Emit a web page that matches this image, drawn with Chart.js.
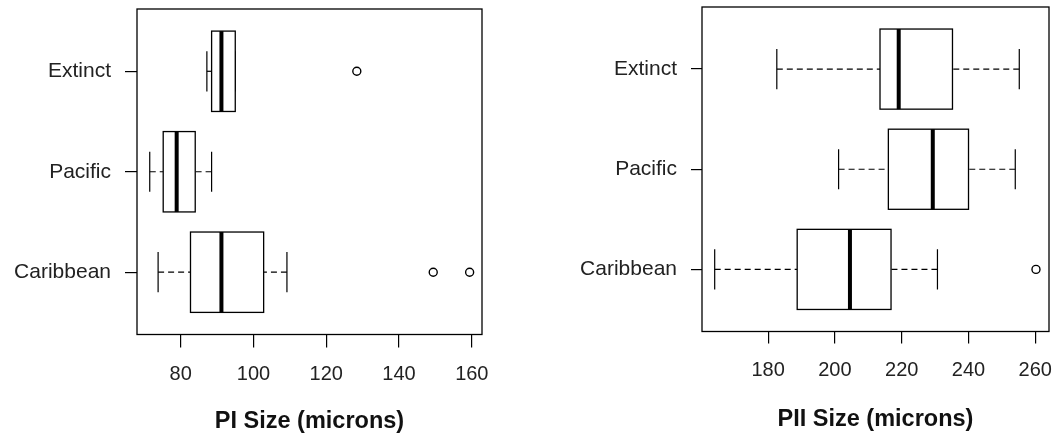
<!DOCTYPE html>
<html>
<head>
<meta charset="utf-8">
<script src="https://cdn.jsdelivr.net/npm/chart.js@4/dist/chart.umd.min.js"></script>
<style>
  body { margin: 0; background: #fff; }
  .panel { position: absolute; top: 0; }
</style>
</head>
<body>
<div class="panel" style="left:0"><canvas id="piChart" width="500" height="436"></canvas></div>
<div class="panel" style="left:540px"><canvas id="piiChart" width="515" height="436"></canvas></div>
<script>
// groups sit at positions 1, 2, 3 (bottom to top)
const groups = ['Caribbean', 'Pacific', 'Extinct'];

// PI size (microns)
const piLow = [73.8, 71.5, 87.2];
const piQ1 = [82.7, 75.2, 88.5];
const piMed = [91.2, 78.9, 91.2];
const piQ3 = [102.8, 84.0, 95.0];
const piHigh = [109.2, 88.5, 95.0];
const piOutliers = [[149.4, 159.4], [], [128.4]];
const piTicks = [80, 100, 120, 140, 160];

// PII size (microns)
const piiLow = [164.0, 201.1, 182.6];
const piiQ1 = [188.7, 216.0, 213.5];
const piiMed = [204.5, 229.3, 219.1];
const piiQ3 = [216.8, 240.0, 235.2];
const piiHigh = [230.7, 254.0, 255.2];
const piiOutliers = [[260.2], [], []];
const piiTicks = [180, 200, 220, 240, 260];

const BOX_HALF = 0.4;    // boxwex 0.8
const STAPLE_HALF = 0.2;

const boxPlugin = {
    id: 'boxes',
    beforeDatasetsDraw: function(chart) {
        const st = chart.options.plugins.boxes;
        const xs = chart.scales.x, ys = chart.scales.y;
        const ctx = chart.ctx;
        ctx.save();
        ctx.strokeStyle = '#000';
        for (let i = 0; i < groups.length; i++) {
            const pos = i + 1;
            const yc = ys.getPixelForValue(pos);
            const yt = ys.getPixelForValue(pos + BOX_HALF);
            const yb = ys.getPixelForValue(pos - BOX_HALF);
            const st1 = ys.getPixelForValue(pos + STAPLE_HALF);
            const st2 = ys.getPixelForValue(pos - STAPLE_HALF);
            const xLo = xs.getPixelForValue(st.low[i]);
            const x1 = xs.getPixelForValue(st.q1[i]);
            const xm = xs.getPixelForValue(st.med[i]);
            const x3 = xs.getPixelForValue(st.q3[i]);
            const xHi = xs.getPixelForValue(st.high[i]);

            // whiskers
            ctx.lineWidth = 1.2;
            ctx.setLineDash([6, 4]);
            ctx.beginPath();
            ctx.moveTo(xLo, yc); ctx.lineTo(x1, yc);
            ctx.moveTo(xHi, yc); ctx.lineTo(x3, yc);
            ctx.stroke();
            ctx.setLineDash([]);
            // staples
            ctx.beginPath();
            ctx.moveTo(xLo, st1); ctx.lineTo(xLo, st2);
            ctx.moveTo(xHi, st1); ctx.lineTo(xHi, st2);
            ctx.stroke();
            // box
            ctx.fillStyle = '#fff';
            ctx.fillRect(x1, yt, x3 - x1, yb - yt);
            ctx.lineWidth = 1.3;
            ctx.strokeRect(x1, yt, x3 - x1, yb - yt);
            // median
            ctx.lineWidth = 4;
            ctx.beginPath();
            ctx.moveTo(xm, yt); ctx.lineTo(xm, yb);
            ctx.stroke();
        }
        ctx.restore();
    },
    afterDraw: function(chart) {
        const a = chart.chartArea;
        const ctx = chart.ctx;
        ctx.save();
        ctx.strokeStyle = '#000';
        ctx.lineWidth = 1.3;
        ctx.strokeRect(a.left, a.top, a.right - a.left, a.bottom - a.top);
        ctx.restore();
    }
};

function makeChart(id, cfg) {
    const outPts = [];
    cfg.outliers.forEach(function(list, i) {
        list.forEach(function(v) { outPts.push({x: v, y: i + 1}); });
    });
    return new Chart(document.getElementById(id), {
        type: 'scatter',
        data: {
            datasets: [{
                data: outPts,
                pointStyle: 'circle',
                pointRadius: 4,
                borderWidth: 1.4,
                borderColor: '#000',
                backgroundColor: '#fff'
            }]
        },
        options: {
            responsive: false,
            animation: false,
            devicePixelRatio: 1,
            layout: { padding: cfg.padding },
            plugins: {
                legend: { display: false },
                tooltip: { enabled: false },
                boxes: cfg.stats
            },
            scales: {
                x: {
                    type: 'linear',
                    min: cfg.xMin,
                    max: cfg.xMax,
                    afterBuildTicks: function(s) { s.ticks = cfg.ticks.map(v => ({value: v})); },
                    afterFit: function(s) {
                        s.height = cfg.xHeight;
                        s.paddingLeft = 0; s.paddingRight = 0;
                    },
                    grid: { drawOnChartArea: false, tickLength: cfg.xTickLen, color: '#000', lineWidth: 1.2 },
                    border: { display: false },
                    ticks: {
                        padding: cfg.xPad,
                        color: '#222',
                        font: { family: 'Liberation Sans, Arial', size: 20 },
                        callback: function(v) { return v; }
                    },
                    title: {
                        display: true,
                        text: cfg.title,
                        color: '#111',
                        padding: { top: 0, bottom: cfg.titlePad },
                        font: { family: 'Liberation Sans, Arial', size: 23.5, weight: 'bold', lineHeight: 1 }
                    }
                },
                y: {
                    type: 'linear',
                    min: 0.38,
                    max: 3.62,
                    afterBuildTicks: function(s) { s.ticks = groups.map((g, i) => ({value: i + 1})); },
                    afterFit: function(s) {
                        s.width = cfg.yWidth;
                        s.paddingTop = 0; s.paddingBottom = 0;
                    },
                    grid: { drawOnChartArea: false, tickLength: cfg.yTickLen, color: '#000', lineWidth: 1.2 },
                    border: { display: false },
                    ticks: {
                        padding: 14,
                        color: '#222',
                        font: { family: 'Liberation Sans, Arial', size: 21 },
                        callback: function(v) { return groups[v - 1]; }
                    }
                }
            }
        },
        plugins: [boxPlugin]
    });
}

makeChart('piChart', {
    title: 'PI Size (microns)',
    stats: { low: piLow, q1: piQ1, med: piMed, q3: piQ3, high: piHigh },
    outliers: piOutliers,
    ticks: piTicks,
    xMin: 68.0, xMax: 162.8,
    padding: { top: 9, right: 18, bottom: 0, left: 0 },
    xHeight: 101.5, xTickLen: 13, xPad: 15, titlePad: 2.5,
    yWidth: 137, yTickLen: 12
});

makeChart('piiChart', {
    title: 'PII Size (microns)',
    stats: { low: piiLow, q1: piiQ1, med: piiMed, q3: piiQ3, high: piiHigh },
    outliers: piiOutliers,
    ticks: piiTicks,
    xMin: 160.2, xMax: 264.1,
    padding: { top: 7, right: 6, bottom: 0, left: 0 },
    xHeight: 104.5, xTickLen: 12, xPad: 14.5, titlePad: 4.5,
    yWidth: 162, yTickLen: 11
});
</script>
</body>
</html>
